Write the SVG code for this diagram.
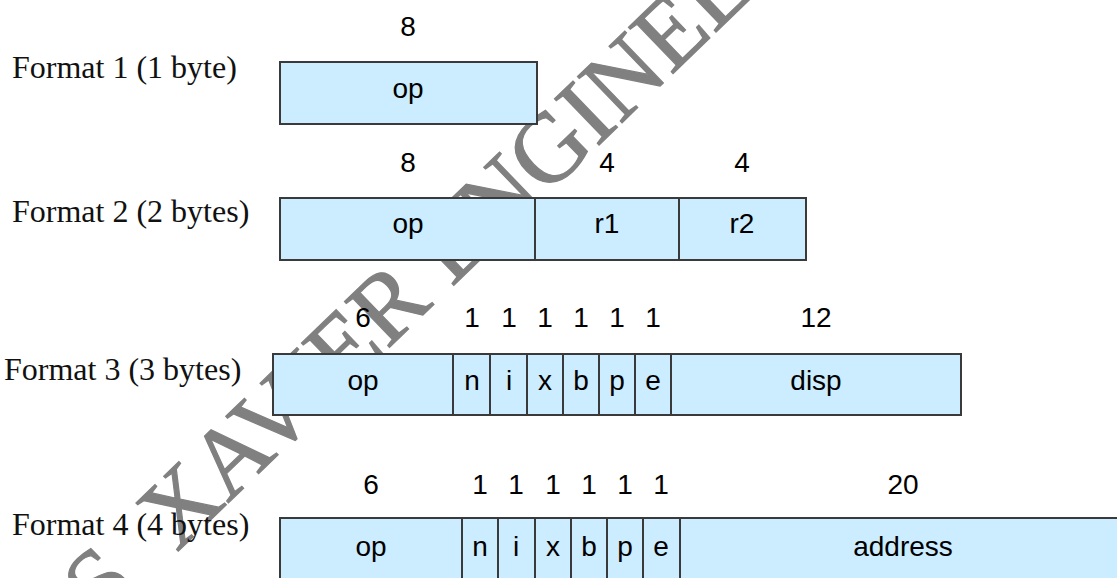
<svg xmlns="http://www.w3.org/2000/svg" width="1117" height="578" viewBox="0 0 1117 578">
  <style>
    .fmt { font-family: "Liberation Serif", "Times New Roman", serif; font-size: 32px; fill: #111; }
    .num { font-family: "Liberation Sans", Arial, sans-serif; font-size: 28px; fill: #000; text-anchor: middle; }
    .fld { font-family: "Liberation Sans", Arial, sans-serif; font-size: 28px; fill: #000; text-anchor: middle; }
    .box { fill: #CCECFF; stroke: #3a3a3a; stroke-width: 2; }
    .div { stroke: #3a3a3a; stroke-width: 2; }
    .mark { font-family: "Liberation Serif", "Times New Roman", serif; font-size: 98px; fill: #808080; stroke: #808080; stroke-width: 1.2; }
  </style>

  <rect width="1117" height="578" fill="#ffffff"/>

  <!-- diagonal watermark, sits beneath the field boxes -->
  <g id="watermark">
    <text class="mark" transform="translate(102,625) rotate(-44)" x="0" y="0">S<tspan dx="25"> XAVIER ENGINEERING</tspan></text>
  </g>

  <!-- Format 1: 8-bit opcode -->
  <g id="format1">
    <text class="fmt" x="12" y="78">Format 1 (1 byte)</text>
    <text class="num" x="408" y="36">8</text>
    <rect class="box" x="280" y="62" width="257" height="62"/>
    <text class="fld" x="408" y="98">op</text>
  </g>

  <!-- Format 2: opcode + two registers -->
  <g id="format2">
    <text class="fmt" x="12" y="222">Format 2 (2 bytes)</text>
    <text class="num" x="408" y="172">8</text>
    <text class="num" x="607" y="172">4</text>
    <text class="num" x="742" y="172">4</text>
    <rect class="box" x="280" y="198" width="526" height="62"/>
    <line class="div" x1="535" y1="198" x2="535" y2="260"/>
    <line class="div" x1="679" y1="198" x2="679" y2="260"/>
    <text class="fld" x="408" y="233">op</text>
    <text class="fld" x="607" y="233">r1</text>
    <text class="fld" x="742" y="233">r2</text>
  </g>

  <!-- Format 3: opcode, flag bits n i x b p e, 12-bit displacement -->
  <g id="format3">
    <text class="fmt" x="4" y="380">Format 3 (3 bytes)</text>
    <text class="num" x="363" y="327">6</text>
    <text class="num" x="472" y="327">1</text>
    <text class="num" x="509" y="327">1</text>
    <text class="num" x="545" y="327">1</text>
    <text class="num" x="581" y="327">1</text>
    <text class="num" x="617" y="327">1</text>
    <text class="num" x="653" y="327">1</text>
    <text class="num" x="816" y="327">12</text>
    <rect class="box" x="273" y="354" width="688" height="61"/>
    <line class="div" x1="453" y1="354" x2="453" y2="415"/>
    <line class="div" x1="490" y1="354" x2="490" y2="415"/>
    <line class="div" x1="527" y1="354" x2="527" y2="415"/>
    <line class="div" x1="563" y1="354" x2="563" y2="415"/>
    <line class="div" x1="599" y1="354" x2="599" y2="415"/>
    <line class="div" x1="635" y1="354" x2="635" y2="415"/>
    <line class="div" x1="671" y1="354" x2="671" y2="415"/>
    <text class="fld" x="363" y="390">op</text>
    <text class="fld" x="472" y="390">n</text>
    <text class="fld" x="509" y="390">i</text>
    <text class="fld" x="545" y="390">x</text>
    <text class="fld" x="581" y="390">b</text>
    <text class="fld" x="617" y="390">p</text>
    <text class="fld" x="653" y="390">e</text>
    <text class="fld" x="816" y="390">disp</text>
  </g>

  <!-- Format 4: opcode, flag bits, 20-bit address -->
  <g id="format4">
    <text class="fmt" x="12" y="535">Format 4 (4 bytes)</text>
    <text class="num" x="371" y="494">6</text>
    <text class="num" x="480" y="494">1</text>
    <text class="num" x="516" y="494">1</text>
    <text class="num" x="553" y="494">1</text>
    <text class="num" x="589" y="494">1</text>
    <text class="num" x="625" y="494">1</text>
    <text class="num" x="661" y="494">1</text>
    <text class="num" x="903" y="494">20</text>
    <rect class="box" x="280" y="518" width="848" height="70"/>
    <line class="div" x1="462" y1="518" x2="462" y2="588"/>
    <line class="div" x1="498" y1="518" x2="498" y2="588"/>
    <line class="div" x1="535" y1="518" x2="535" y2="588"/>
    <line class="div" x1="571" y1="518" x2="571" y2="588"/>
    <line class="div" x1="607" y1="518" x2="607" y2="588"/>
    <line class="div" x1="643" y1="518" x2="643" y2="588"/>
    <line class="div" x1="680" y1="518" x2="680" y2="588"/>
    <text class="fld" x="371" y="556">op</text>
    <text class="fld" x="480" y="556">n</text>
    <text class="fld" x="516" y="556">i</text>
    <text class="fld" x="553" y="556">x</text>
    <text class="fld" x="589" y="556">b</text>
    <text class="fld" x="625" y="556">p</text>
    <text class="fld" x="661" y="556">e</text>
    <text class="fld" x="903" y="556">address</text>
  </g>
</svg>
